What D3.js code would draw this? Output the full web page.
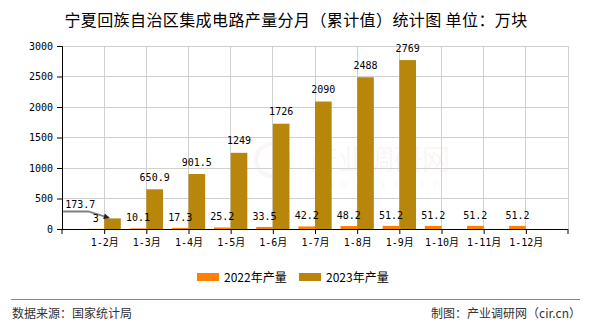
<!DOCTYPE html>
<html>
<head>
<meta charset="utf-8">
<script src="https://cdn.jsdelivr.net/npm/d3@7"></script>
<style>
  html, body { margin: 0; padding: 0; background: #fff; }
  svg { display: block; }
</style>
</head>
<body>
<svg id="chart" width="590" height="330"></svg>
<script>
// Monthly cumulative output, Ningxia integrated circuits (10k pieces)
const categories = ["1-2月", "1-3月", "1-4月", "1-5月", "1-6月", "1-7月", "1-8月", "1-9月", "1-10月", "1-11月", "1-12月"];
const values2022 = [3, 10.1, 17.3, 25.2, 33.5, 42.2, 48.2, 51.2, 51.2, 51.2, 51.2];
const values2023 = [173.7, 650.9, 901.5, 1249, 1726, 2090, 2488, 2769, null, null, null];
const seriesNames = ["2022年产量", "2023年产量"];
const seriesColors = ["#FF8000", "#B8860B"];
const yTicks = [0, 500, 1000, 1500, 2000, 2500, 3000];

const svg = d3.select("#chart");
const plot = { left: 62, right: 568, top: 46, bottom: 229 };
const monoFont = "'DejaVu Sans Mono', 'Noto Sans CJK SC', monospace";
const cjkFont = "'Noto Sans CJK SC', sans-serif";

const x = d3.scalePoint().domain(categories).range([plot.left, plot.right]).padding(1);
const step = x.step();
const y = d3.scaleLinear().domain([0, 3000]).range([plot.bottom, plot.top]);
const barW = step * 0.395;

// title
svg.append("text")
  .attr("x", 296).attr("y", 26)
  .attr("text-anchor", "middle")
  .style("font-family", cjkFont).style("font-size", "16px")
  .style("letter-spacing", "0.4px")
  .attr("fill", "#000")
  .text("宁夏回族自治区集成电路产量分月（累计值）统计图 单位：万块");

// faint watermark
const wm = svg.append("g").attr("opacity", 0.045).attr("fill", "#d03030");
wm.append("circle").attr("cx", 272).attr("cy", 160).attr("r", 16)
  .attr("fill", "none").attr("stroke", "#d03030").attr("stroke-width", 4);
wm.append("text").attr("x", 380).attr("y", 170).attr("text-anchor", "middle")
  .style("font-family", cjkFont).style("font-size", "28px").text("产业调研网");
wm.append("text").attr("x", 380).attr("y", 188).attr("text-anchor", "middle")
  .style("font-family", monoFont).style("font-size", "12px").style("letter-spacing", "6px").text("www.cir.cn");

// grid
const gridX = d3.range(0, categories.length + 2).map(k => plot.left + k * step);
svg.append("g").selectAll("line.gv").data(gridX).join("line")
  .attr("x1", d => d).attr("x2", d => d)
  .attr("y1", plot.top).attr("y2", plot.bottom)
  .attr("stroke", "#d0d0d0").attr("stroke-width", 1).attr("shape-rendering", "crispEdges");
svg.append("g").selectAll("line.gh").data(yTicks.filter(t => t > 0)).join("line")
  .attr("x1", plot.left).attr("x2", plot.right)
  .attr("y1", d => y(d)).attr("y2", d => y(d))
  .attr("stroke", "#d0d0d0").attr("stroke-width", 1).attr("shape-rendering", "crispEdges");

// bars
const rows = categories.map((c, i) => ({ c, a: values2022[i], b: values2023[i] }));
svg.append("g").selectAll("rect").data(rows).join("rect")
  .attr("x", d => x(d.c) - barW).attr("width", barW)
  .attr("y", d => y(d.a)).attr("height", d => y(0) - y(d.a))
  .attr("fill", seriesColors[0]);
svg.append("g").selectAll("rect").data(rows.filter(d => d.b != null)).join("rect")
  .attr("x", d => x(d.c)).attr("width", barW)
  .attr("y", d => y(d.b)).attr("height", d => y(0) - y(d.b))
  .attr("fill", seriesColors[1]);

// axes
const yAxis = d3.axisLeft(y).tickValues(yTicks).tickSize(5).tickPadding(4).tickFormat(d3.format("d"));
const gy = svg.append("g").attr("transform", `translate(${plot.left},0)`).call(yAxis);
gy.select(".domain").attr("stroke", "#000");
gy.selectAll(".tick line").attr("stroke", "#000");
gy.selectAll("text").style("font-family", monoFont).style("font-size", "10px").attr("fill", "#000");

const xAxis = d3.axisBottom(x).tickSize(5).tickPadding(5).tickSizeOuter(0);
const gx = svg.append("g").attr("transform", `translate(0,${plot.bottom})`).call(xAxis);
gx.select(".domain").attr("d", `M${plot.left},0.5H${plot.right}`).attr("stroke", "#000");
gx.selectAll(".tick line").attr("stroke", "#000");
gx.selectAll("text").style("font-family", monoFont).style("font-size", "10px").attr("fill", "#000");
gx.selectAll("line.edge").data([plot.left, plot.right]).join("line")
  .attr("class", "edge").attr("x1", d => d).attr("x2", d => d)
  .attr("y1", 0).attr("y2", 5).attr("stroke", "#000");

// leader arrow for the first 2023 label, which is moved aside
const first = rows[0];
svg.append("defs").append("marker")
  .attr("id", "arrow").attr("viewBox", "0 0 10 10")
  .attr("refX", 9).attr("refY", 5)
  .attr("markerUnits", "userSpaceOnUse")
  .attr("markerWidth", 7).attr("markerHeight", 6)
  .attr("orient", "auto")
  .append("path").attr("d", "M0,0L10,5L0,10z").attr("fill", "#222");

const tipX = x(first.c) + 5, tipY = y(first.b) - 0.5;
const leftX = x(first.c) - 41;
svg.append("path")
  .attr("d", `M${leftX},${tipY - 6.5}H${tipX - 21}L${tipX},${tipY}`)
  .attr("fill", "none").attr("stroke", "#808080").attr("stroke-width", 2)
  .attr("marker-end", "url(#arrow)");

// value labels
const labels = svg.append("g")
  .style("font-family", monoFont).style("font-size", "10px").attr("fill", "#000");
labels.selectAll("text.a").data(rows).join("text")
  .attr("class", "a")
  .attr("x", d => x(d.c) - barW / 2).attr("y", d => y(d.a) - 7)
  .attr("text-anchor", "middle").text(d => d.a);

labels.selectAll("text.b").data(rows.filter((d, i) => d.b != null && i > 0)).join("text")
  .attr("class", "b")
  .attr("x", d => x(d.c) + barW / 2).attr("y", d => y(d.b) - 8.5)
  .attr("text-anchor", "middle").text(d => d.b);

labels.append("text")
  .attr("x", leftX + 2).attr("y", tipY - 9.5)
  .text(first.b);

// legend
const legend = svg.append("g");
const legendX = [197, 299];
seriesNames.forEach((name, i) => {
  legend.append("rect").attr("x", legendX[i]).attr("y", 273).attr("width", 22).attr("height", 8)
    .attr("fill", seriesColors[i]);
  legend.append("text").attr("x", legendX[i] + 27).attr("y", 281.5)
    .style("font-family", cjkFont).style("font-size", "12px").attr("fill", "#000")
    .text(name);
});

// footer
svg.append("line").attr("x1", 11).attr("x2", 580).attr("y1", 299.5).attr("y2", 299.5)
  .attr("stroke", "#888").attr("stroke-width", 1);
svg.append("text").attr("x", 12).attr("y", 318)
  .style("font-family", cjkFont).style("font-size", "12px").attr("fill", "#333")
  .text("数据来源：国家统计局");
svg.append("text").attr("x", 581).attr("y", 318).attr("text-anchor", "end")
  .style("font-family", cjkFont).style("font-size", "12px").attr("fill", "#333")
  .text("制图：产业调研网（cir.cn）");
</script>
</body>
</html>
